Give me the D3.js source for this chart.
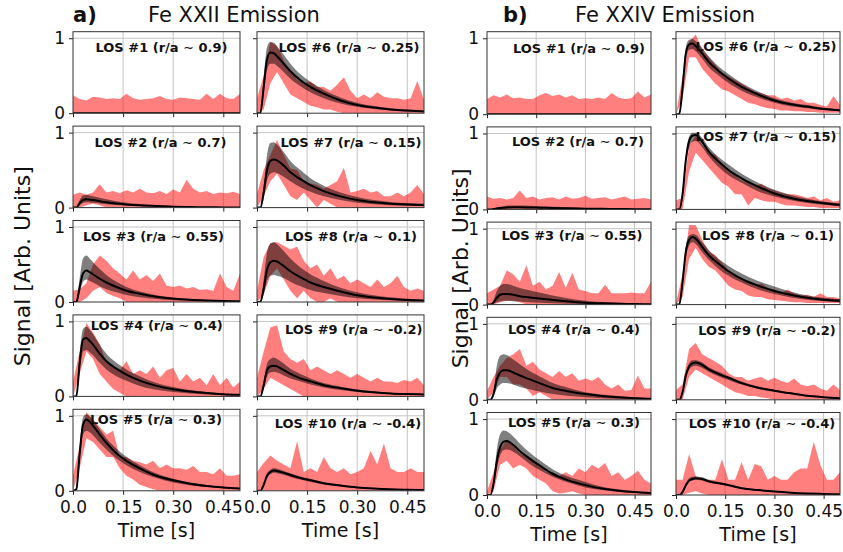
<!DOCTYPE html>
<html>
<head>
<meta charset="utf-8">
<script src="https://cdn.jsdelivr.net/npm/d3@7/dist/d3.min.js"></script>
<style>
body { margin: 0; background: #fff; }
svg text { font-family: "DejaVu Sans", sans-serif; fill: #111; }
</style>
</head>
<body>
<svg id="chart" width="843" height="552"></svg>
<script>

// ---- data ----

var tRed = [0, 0.02, 0.04, 0.06, 0.08, 0.10, 0.12, 0.14, 0.16, 0.18, 0.20, 0.22, 0.24,
	0.26, 0.28, 0.30, 0.32, 0.34, 0.36, 0.38, 0.40, 0.42, 0.44, 0.46, 0.48, 0.50];
var tModel = [0, 0.01, 0.02, 0.03, 0.04, 0.05, 0.06, 0.08, 0.10, 0.13, 0.16, 0.20, 0.25, 0.30, 0.35, 0.40, 0.45, 0.50];

var losRadius = ['0.9', '0.7', '0.55', '0.4', '0.3', '0.25', '0.15', '0.1', '-0.2', '-0.4'];
var timeTicks = [0, 0.15, 0.30, 0.45];
var timeTickLabels = ['0.0', '0.15', '0.30', '0.45'];
var signalTicks = [0, 1];

// Fe XXII : model line, model band, measured band
var fe22Model = [
	[0, 0, 0, 0, 0, 0, 0, 0, 0, 0, 0, 0, 0, 0, 0, 0, 0, 0],
	[0, 0, 0.06, 0.1, 0.11, 0.105, 0.1, 0.085, 0.07, 0.055, 0.042, 0.03, 0.02, 0.013, 0.008, 0.005, 0.003, 0.002],
	[0, 0, 0.2, 0.38, 0.42, 0.4, 0.37, 0.31, 0.26, 0.2, 0.15, 0.11, 0.07, 0.045, 0.03, 0.02, 0.013, 0.009],
	[0, 0, 0.45, 0.76, 0.78, 0.74, 0.69, 0.57, 0.47, 0.37, 0.29, 0.21, 0.14, 0.095, 0.065, 0.045, 0.03, 0.021],
	[0, 0.02, 0.5, 0.88, 0.95, 0.92, 0.87, 0.75, 0.64, 0.5, 0.4, 0.3, 0.2, 0.14, 0.095, 0.065, 0.045, 0.03],
	[0, 0, 0.35, 0.72, 0.81, 0.8, 0.76, 0.66, 0.56, 0.44, 0.35, 0.26, 0.17, 0.11, 0.075, 0.05, 0.035, 0.024],
	[0, 0, 0.2, 0.5, 0.62, 0.64, 0.63, 0.56, 0.47, 0.38, 0.3, 0.22, 0.15, 0.1, 0.07, 0.05, 0.04, 0.035],
	[0, 0, 0.18, 0.43, 0.53, 0.55, 0.54, 0.48, 0.41, 0.33, 0.26, 0.2, 0.14, 0.09, 0.06, 0.04, 0.028, 0.02],
	[0, 0, 0.15, 0.35, 0.4, 0.41, 0.4, 0.35, 0.3, 0.24, 0.2, 0.15, 0.11, 0.076, 0.055, 0.04, 0.032, 0.027],
	[0, 0, 0.08, 0.2, 0.25, 0.27, 0.265, 0.24, 0.21, 0.17, 0.14, 0.1, 0.07, 0.045, 0.03, 0.02, 0.014, 0.01]
];
var fe22GreyLo = [
	[0, 0, 0, 0, 0, 0, 0, 0, 0, 0, 0, 0, 0, 0, 0, 0, 0, 0],
	[0, 0, 0.03, 0.06, 0.07, 0.068, 0.064, 0.055, 0.045, 0.035, 0.026, 0.018, 0.011, 0.007, 0.004, 0.002, 0.001, 0.001],
	[0, 0, 0.12, 0.27, 0.3, 0.28, 0.26, 0.21, 0.17, 0.13, 0.095, 0.065, 0.04, 0.025, 0.015, 0.01, 0.006, 0.004],
	[0, 0, 0.33, 0.6, 0.62, 0.59, 0.55, 0.45, 0.36, 0.27, 0.21, 0.14, 0.09, 0.06, 0.04, 0.025, 0.017, 0.011],
	[0, 0.01, 0.4, 0.75, 0.8, 0.78, 0.74, 0.64, 0.55, 0.43, 0.34, 0.25, 0.17, 0.11, 0.075, 0.05, 0.035, 0.022],
	[0, 0, 0.25, 0.58, 0.66, 0.66, 0.63, 0.55, 0.46, 0.36, 0.28, 0.2, 0.13, 0.085, 0.055, 0.036, 0.024, 0.016],
	[0, 0, 0.12, 0.36, 0.45, 0.47, 0.46, 0.41, 0.35, 0.27, 0.21, 0.15, 0.1, 0.065, 0.045, 0.032, 0.025, 0.02],
	[0, 0, 0.1, 0.28, 0.35, 0.36, 0.35, 0.32, 0.27, 0.21, 0.16, 0.12, 0.08, 0.05, 0.033, 0.022, 0.015, 0.01],
	[0, 0, 0.1, 0.27, 0.32, 0.33, 0.32, 0.28, 0.24, 0.2, 0.16, 0.12, 0.085, 0.06, 0.043, 0.032, 0.025, 0.02],
	[0, 0, 0.06, 0.17, 0.22, 0.24, 0.235, 0.215, 0.185, 0.15, 0.12, 0.085, 0.058, 0.037, 0.024, 0.015, 0.01, 0.007]
];
var fe22GreyHi = [
	[0, 0, 0, 0, 0, 0, 0, 0, 0, 0, 0, 0, 0, 0, 0, 0, 0, 0],
	[0, 0, 0.1, 0.16, 0.17, 0.16, 0.15, 0.13, 0.11, 0.085, 0.065, 0.047, 0.031, 0.02, 0.013, 0.008, 0.005, 0.003],
	[0, 0, 0.32, 0.58, 0.62, 0.58, 0.53, 0.44, 0.36, 0.27, 0.2, 0.14, 0.09, 0.06, 0.04, 0.027, 0.018, 0.012],
	[0, 0, 0.58, 0.9, 0.93, 0.89, 0.83, 0.69, 0.57, 0.45, 0.36, 0.27, 0.18, 0.125, 0.085, 0.06, 0.04, 0.028],
	[0, 0.03, 0.6, 0.98, 1.02, 0.99, 0.94, 0.82, 0.7, 0.56, 0.45, 0.34, 0.23, 0.16, 0.11, 0.078, 0.055, 0.038],
	[0, 0, 0.48, 0.88, 0.95, 0.94, 0.89, 0.78, 0.66, 0.52, 0.42, 0.31, 0.21, 0.14, 0.095, 0.065, 0.045, 0.032],
	[0, 0, 0.3, 0.7, 0.86, 0.87, 0.84, 0.74, 0.62, 0.5, 0.39, 0.29, 0.2, 0.14, 0.1, 0.075, 0.06, 0.05],
	[0, 0, 0.3, 0.66, 0.78, 0.8, 0.77, 0.68, 0.58, 0.46, 0.37, 0.28, 0.19, 0.13, 0.09, 0.062, 0.043, 0.03],
	[0, 0, 0.2, 0.44, 0.5, 0.52, 0.5, 0.44, 0.37, 0.3, 0.24, 0.18, 0.13, 0.092, 0.066, 0.05, 0.04, 0.034],
	[0, 0, 0.1, 0.23, 0.28, 0.3, 0.295, 0.265, 0.235, 0.19, 0.16, 0.115, 0.082, 0.053, 0.036, 0.025, 0.018, 0.013]
];
var fe22RedLo = [
	[0, 0, 0, 0, 0, 0, 0, 0, 0, 0, 0, 0, 0, 0, 0, 0, 0, 0, 0, 0, 0, 0, 0, 0, 0, 0],
	[0, 0, 0.03, 0.05, 0.03, 0, 0, 0, 0, 0, 0, 0, 0, 0, 0, 0, 0, 0, 0, 0, 0, 0, 0, 0, 0, 0],
	[0, 0, 0.05, 0.15, 0.2, 0.12, 0.08, 0.05, 0, 0, 0, 0, 0, 0, 0, 0, 0, 0, 0, 0, 0, 0, 0, 0, 0, 0],
	[0, 0.3, 0.6, 0.5, 0.3, 0.2, 0.1, 0.05, 0, 0, 0, 0, 0, 0, 0, 0, 0, 0, 0, 0, 0, 0, 0, 0, 0, 0],
	[0, 0.3, 0.7, 0.65, 0.55, 0.45, 0.45, 0.3, 0.2, 0.15, 0.08, 0.05, 0.02, 0, 0, 0, 0, 0, 0, 0, 0, 0, 0, 0, 0, 0],
	[0, 0.05, 0.4, 0.55, 0.4, 0.25, 0.2, 0.15, 0.1, 0.08, 0.05, 0.05, 0.02, 0, 0, 0, 0, 0, 0, 0, 0, 0, 0, 0, 0, 0],
	[0, 0.15, 0.35, 0.45, 0.3, 0.15, 0.1, 0.2, 0.1, 0, 0.1, 0.05, 0, 0, 0, 0, 0, 0, 0, 0, 0, 0, 0, 0, 0, 0],
	[0, 0.1, 0.35, 0.45, 0.3, 0.15, 0.05, 0.15, 0.05, 0, 0, 0.05, 0, 0, 0, 0, 0, 0, 0, 0, 0, 0, 0, 0, 0, 0],
	[0, 0.1, 0.25, 0.2, 0.15, 0.1, 0.05, 0, 0, 0, 0, 0, 0, 0, 0, 0, 0, 0, 0, 0, 0, 0, 0, 0, 0, 0],
	[0, 0, 0, 0, 0, 0, 0, 0, 0, 0, 0, 0, 0, 0, 0, 0, 0, 0, 0, 0, 0, 0, 0, 0, 0, 0]
];
var fe22RedHi = [
	[0.24, 0.19, 0.17, 0.22, 0.21, 0.19, 0.2, 0.19, 0.26, 0.2, 0.18, 0.19, 0.2, 0.23, 0.19, 0.18, 0.21, 0.2, 0.19, 0.18, 0.26, 0.19, 0.26, 0.2, 0.19, 0.26],
	[0.17, 0.2, 0.17, 0.2, 0.31, 0.2, 0.22, 0.19, 0.23, 0.2, 0.25, 0.2, 0.19, 0.22, 0.18, 0.24, 0.2, 0.37, 0.25, 0.2, 0.22, 0.18, 0.2, 0.19, 0.21, 0.18],
	[0.15, 0.17, 0.25, 0.5, 0.62, 0.55, 0.45, 0.38, 0.3, 0.42, 0.3, 0.36, 0.28, 0.38, 0.22, 0.2, 0.22, 0.18, 0.2, 0.16, 0.17, 0.15, 0.38, 0.2, 0.15, 0.38],
	[0.2, 0.6, 0.98, 0.85, 0.7, 0.45, 0.4, 0.35, 0.47, 0.3, 0.35, 0.3, 0.4, 0.25, 0.35, 0.38, 0.2, 0.3, 0.2, 0.25, 0.15, 0.3, 0.15, 0.25, 0.12, 0.2],
	[0.2, 0.6, 1.05, 0.95, 0.85, 0.75, 0.8, 0.45, 0.45, 0.4, 0.38, 0.35, 0.4, 0.3, 0.35, 0.3, 0.3, 0.28, 0.33, 0.25, 0.25, 0.22, 0.3, 0.2, 0.2, 0.22],
	[0.2, 0.5, 0.95, 0.9, 0.7, 0.55, 0.45, 0.4, 0.42, 0.35, 0.35, 0.3, 0.38, 0.48, 0.3, 0.2, 0.25, 0.2, 0.28, 0.22, 0.2, 0.2, 0.18, 0.2, 0.43, 0.18],
	[0.18, 0.5, 0.7, 0.9, 0.7, 0.52, 0.5, 0.35, 0.32, 0.3, 0.25, 0.3, 0.35, 0.53, 0.2, 0.22, 0.25, 0.2, 0.22, 0.15, 0.15, 0.2, 0.15, 0.2, 0.3, 0.18],
	[0.15, 0.6, 0.78, 0.8, 0.75, 0.7, 0.74, 0.55, 0.45, 0.5, 0.35, 0.45, 0.3, 0.35, 0.25, 0.3, 0.25, 0.2, 0.3, 0.2, 0.25, 0.35, 0.2, 0.15, 0.18, 0.15],
	[0.25, 0.6, 0.92, 0.95, 0.6, 0.5, 0.45, 0.5, 0.35, 0.4, 0.35, 0.3, 0.35, 0.3, 0.25, 0.3, 0.25, 0.2, 0.25, 0.2, 0.2, 0.18, 0.22, 0.2, 0.25, 0.15],
	[0.25, 0.37, 0.47, 0.4, 0.35, 0.3, 0.66, 0.25, 0.3, 0.25, 0.45, 0.3, 0.25, 0.3, 0.22, 0.25, 0.3, 0.53, 0.35, 0.63, 0.3, 0.25, 0.25, 0.3, 0.25, 0.25]
];

// Fe XXIV : model line, model band, measured band
var fe24Model = [
	[0, 0, 0, 0, 0, 0, 0, 0, 0, 0, 0, 0, 0, 0, 0, 0, 0, 0],
	[0, 0, 0.005, 0.012, 0.018, 0.022, 0.025, 0.028, 0.028, 0.026, 0.023, 0.019, 0.014, 0.01, 0.007, 0.005, 0.003, 0.002],
	[0, 0, 0.03, 0.09, 0.13, 0.14, 0.14, 0.13, 0.11, 0.095, 0.08, 0.06, 0.04, 0.025, 0.017, 0.012, 0.008, 0.005],
	[0, 0, 0.08, 0.27, 0.36, 0.39, 0.39, 0.36, 0.32, 0.27, 0.22, 0.155, 0.11, 0.075, 0.05, 0.035, 0.022, 0.013],
	[0, 0, 0.15, 0.45, 0.63, 0.7, 0.71, 0.66, 0.58, 0.48, 0.39, 0.28, 0.19, 0.13, 0.085, 0.057, 0.038, 0.026],
	[0, 0, 0.35, 0.8, 0.92, 0.93, 0.9, 0.8, 0.69, 0.57, 0.47, 0.36, 0.26, 0.18, 0.13, 0.1, 0.07, 0.053],
	[0, 0, 0.2, 0.65, 0.9, 0.97, 0.98, 0.89, 0.76, 0.63, 0.52, 0.41, 0.3, 0.21, 0.15, 0.11, 0.08, 0.057],
	[0, 0, 0.3, 0.7, 0.85, 0.89, 0.87, 0.76, 0.65, 0.54, 0.44, 0.34, 0.25, 0.18, 0.13, 0.09, 0.065, 0.05],
	[0, 0, 0.1, 0.32, 0.44, 0.48, 0.49, 0.46, 0.4, 0.34, 0.29, 0.22, 0.16, 0.12, 0.085, 0.053, 0.035, 0.022],
	[0, 0, 0.04, 0.13, 0.19, 0.21, 0.22, 0.21, 0.18, 0.155, 0.13, 0.09, 0.065, 0.045, 0.03, 0.02, 0.014, 0.01]
];
var fe24GreyLo = [
	[0, 0, 0, 0, 0, 0, 0, 0, 0, 0, 0, 0, 0, 0, 0, 0, 0, 0],
	[0, 0, 0, 0.003, 0.006, 0.008, 0.01, 0.012, 0.012, 0.011, 0.01, 0.008, 0.006, 0.004, 0.003, 0.002, 0.001, 0.001],
	[0, 0, 0.01, 0.03, 0.04, 0.05, 0.05, 0.045, 0.04, 0.03, 0.025, 0.018, 0.012, 0.008, 0.005, 0.003, 0.002, 0.001],
	[0, 0, 0.04, 0.15, 0.2, 0.22, 0.22, 0.2, 0.17, 0.14, 0.11, 0.075, 0.05, 0.035, 0.022, 0.014, 0.008, 0.005],
	[0, 0, 0.1, 0.35, 0.52, 0.59, 0.6, 0.57, 0.51, 0.41, 0.33, 0.24, 0.16, 0.1, 0.065, 0.042, 0.027, 0.018],
	[0, 0, 0.3, 0.72, 0.85, 0.86, 0.83, 0.73, 0.62, 0.51, 0.41, 0.31, 0.22, 0.15, 0.105, 0.08, 0.055, 0.04],
	[0, 0, 0.15, 0.57, 0.82, 0.89, 0.9, 0.82, 0.7, 0.56, 0.45, 0.35, 0.24, 0.17, 0.12, 0.085, 0.06, 0.04],
	[0, 0, 0.25, 0.62, 0.78, 0.82, 0.8, 0.69, 0.59, 0.47, 0.38, 0.29, 0.2, 0.14, 0.095, 0.065, 0.045, 0.03],
	[0, 0, 0.08, 0.28, 0.4, 0.44, 0.45, 0.42, 0.37, 0.31, 0.26, 0.2, 0.145, 0.105, 0.075, 0.045, 0.03, 0.018],
	[0, 0, 0.03, 0.11, 0.17, 0.19, 0.2, 0.19, 0.165, 0.14, 0.115, 0.08, 0.057, 0.038, 0.025, 0.016, 0.011, 0.008]
];
var fe24GreyHi = [
	[0, 0, 0, 0, 0, 0, 0, 0, 0, 0, 0, 0, 0, 0, 0, 0, 0, 0],
	[0, 0, 0.01, 0.025, 0.035, 0.042, 0.047, 0.052, 0.052, 0.048, 0.042, 0.034, 0.025, 0.018, 0.012, 0.008, 0.005, 0.003],
	[0, 0, 0.06, 0.18, 0.25, 0.27, 0.27, 0.25, 0.22, 0.19, 0.16, 0.12, 0.08, 0.05, 0.035, 0.024, 0.016, 0.01],
	[0, 0, 0.12, 0.45, 0.58, 0.6, 0.59, 0.53, 0.47, 0.38, 0.31, 0.22, 0.155, 0.1, 0.07, 0.05, 0.032, 0.02],
	[0, 0, 0.2, 0.6, 0.8, 0.85, 0.84, 0.77, 0.68, 0.56, 0.46, 0.34, 0.24, 0.17, 0.11, 0.075, 0.05, 0.035],
	[0, 0, 0.4, 0.88, 0.98, 0.99, 0.96, 0.87, 0.76, 0.63, 0.53, 0.41, 0.3, 0.21, 0.155, 0.12, 0.085, 0.065],
	[0, 0, 0.25, 0.72, 0.96, 1.01, 1.01, 0.94, 0.82, 0.69, 0.59, 0.47, 0.35, 0.26, 0.19, 0.14, 0.105, 0.08],
	[0, 0, 0.35, 0.77, 0.91, 0.93, 0.92, 0.82, 0.72, 0.6, 0.51, 0.41, 0.31, 0.24, 0.17, 0.12, 0.09, 0.07],
	[0, 0, 0.12, 0.36, 0.48, 0.52, 0.52, 0.49, 0.43, 0.37, 0.31, 0.24, 0.175, 0.13, 0.095, 0.06, 0.04, 0.026],
	[0, 0, 0.05, 0.15, 0.22, 0.24, 0.245, 0.235, 0.2, 0.17, 0.145, 0.1, 0.073, 0.052, 0.035, 0.024, 0.017, 0.012]
];
var fe24RedLo = [
	[0, 0, 0, 0, 0, 0, 0, 0, 0, 0, 0, 0, 0, 0, 0, 0, 0, 0, 0, 0, 0, 0, 0, 0, 0, 0],
	[0, 0, 0, 0, 0, 0, 0, 0, 0, 0, 0, 0, 0, 0, 0, 0, 0, 0, 0, 0, 0, 0, 0, 0, 0, 0],
	[0, 0, 0.03, 0.05, 0.05, 0.03, 0, 0, 0, 0, 0, 0, 0, 0, 0, 0, 0, 0, 0, 0, 0, 0, 0, 0, 0, 0],
	[0, 0.1, 0.3, 0.3, 0.2, 0.2, 0.15, 0.05, 0.1, 0.05, 0, 0, 0, 0, 0, 0, 0, 0, 0, 0, 0, 0, 0, 0, 0, 0],
	[0, 0.05, 0.4, 0.45, 0.35, 0.4, 0.35, 0.25, 0.2, 0.15, 0.05, 0.02, 0.03, 0.05, 0.02, 0, 0, 0, 0, 0, 0, 0, 0, 0, 0, 0],
	[0, 0.2, 0.75, 0.75, 0.6, 0.5, 0.4, 0.33, 0.3, 0.25, 0.2, 0.15, 0.13, 0.1, 0.08, 0.07, 0.05, 0.05, 0.04, 0.04, 0.03, 0.03, 0.02, 0.02, 0.02, 0.02],
	[0, 0, 0.5, 0.75, 0.65, 0.55, 0.45, 0.35, 0.3, 0.2, 0.2, 0.05, 0.15, 0.12, 0.1, 0.1, 0.07, 0.05, 0.05, 0.04, 0.03, 0.03, 0.02, 0.02, 0.02, 0.02],
	[0, 0.1, 0.6, 0.75, 0.6, 0.5, 0.45, 0.35, 0.25, 0.2, 0.18, 0.12, 0.1, 0.1, 0.07, 0.06, 0.05, 0.04, 0.03, 0.03, 0.02, 0.02, 0.02, 0.02, 0.02, 0.02],
	[0, 0, 0.3, 0.4, 0.35, 0.3, 0.25, 0.2, 0.15, 0.1, 0.08, 0.05, 0.05, 0.03, 0.02, 0, 0, 0, 0, 0, 0, 0, 0, 0, 0, 0],
	[0, 0, 0.03, 0.05, 0.02, 0, 0, 0, 0, 0, 0, 0, 0, 0, 0, 0, 0, 0, 0, 0, 0, 0, 0, 0, 0, 0]
];
var fe24RedHi = [
	[0.2, 0.25, 0.22, 0.26, 0.21, 0.22, 0.2, 0.2, 0.25, 0.28, 0.24, 0.26, 0.22, 0.25, 0.2, 0.21, 0.2, 0.22, 0.2, 0.28, 0.22, 0.2, 0.21, 0.3, 0.22, 0.26],
	[0.17, 0.14, 0.15, 0.13, 0.15, 0.25, 0.15, 0.17, 0.13, 0.15, 0.16, 0.13, 0.17, 0.14, 0.15, 0.18, 0.14, 0.15, 0.16, 0.13, 0.15, 0.17, 0.13, 0.14, 0.15, 0.13],
	[0.15, 0.2, 0.25, 0.45, 0.4, 0.3, 0.52, 0.25, 0.3, 0.2, 0.25, 0.43, 0.22, 0.42, 0.2, 0.18, 0.15, 0.15, 0.26, 0.15, 0.15, 0.15, 0.16, 0.15, 0.15, 0.3],
	[0.12, 0.3, 0.45, 0.55, 0.6, 0.67, 0.45, 0.5, 0.4, 0.35, 0.3, 0.38, 0.3, 0.35, 0.25, 0.28, 0.25, 0.3, 0.2, 0.15, 0.2, 0.12, 0.13, 0.32, 0.15, 0.15],
	[0.05, 0.3, 0.6, 0.72, 0.65, 0.55, 0.5, 0.45, 0.4, 0.3, 0.3, 0.25, 0.3, 0.25, 0.35, 0.3, 0.4, 0.35, 0.42, 0.25, 0.3, 0.2, 0.25, 0.32, 0.2, 0.15],
	[0, 0.5, 0.95, 1.05, 0.85, 0.75, 0.65, 0.55, 0.5, 0.45, 0.4, 0.35, 0.3, 0.28, 0.25, 0.25, 0.2, 0.22, 0.18, 0.2, 0.15, 0.15, 0.12, 0.1, 0.24, 0.12],
	[0.12, 0.15, 0.85, 0.97, 0.85, 0.75, 0.72, 0.6, 0.5, 0.45, 0.38, 0.35, 0.3, 0.34, 0.28, 0.25, 0.22, 0.2, 0.2, 0.18, 0.15, 0.17, 0.12, 0.15, 0.1, 0.12],
	[0.02, 0.4, 1.05, 1.05, 0.85, 0.7, 0.65, 0.55, 0.45, 0.4, 0.32, 0.3, 0.25, 0.28, 0.22, 0.2, 0.15, 0.2, 0.15, 0.12, 0.13, 0.1, 0.15, 0.1, 0.1, 0.08],
	[0.13, 0.2, 0.67, 0.75, 0.6, 0.55, 0.5, 0.45, 0.35, 0.3, 0.3, 0.25, 0.28, 0.3, 0.25, 0.29, 0.25, 0.22, 0.28, 0.2, 0.18, 0.2, 0.15, 0.12, 0.2, 0.13],
	[0.2, 0.2, 0.54, 0.25, 0.2, 0.2, 0.2, 0.47, 0.2, 0.2, 0.43, 0.2, 0.41, 0.38, 0.2, 0.25, 0.2, 0.2, 0.3, 0.35, 0.35, 0.7, 0.4, 0.2, 0.2, 0.3]
];


// ---- layout ----

var svg = d3.select('#chart');

var groups = [
	{
		tag : 'a)', title : 'Fe XXII Emission',
		tagX : 73, titleX : 148, ylabelX : 22,
		colX : [73, 257], width : 167,
		top : 31.7, pitch : 94.4, height : 81.5,
		model : fe22Model, greyLo : fe22GreyLo, greyHi : fe22GreyHi, redLo : fe22RedLo, redHi : fe22RedHi,
		// label centre (from panel left) and baseline (from panel top)
		labelPos : [[88.5, 20], [87.5, 21], [80.5, 20], [83.7, 15], [83, 15], [92, 20], [94, 21], [94, 20], [96.7, 19], [91, 19]]
	},
	{
		tag : 'b)', title : 'Fe XXIV Emission',
		tagX : 503, titleX : 575, ylabelX : 460,
		colX : [487, 676], width : 164,
		top : 31.7, pitch : 95.2, height : 82.5,
		model : fe24Model, greyLo : fe24GreyLo, greyHi : fe24GreyHi, redLo : fe24RedLo, redHi : fe24RedHi,
		labelPos : [[92, 21], [91, 19], [85, 18], [87, 17], [87, 14], [90, 19], [90, 14], [92, 18], [91, 18], [86, 15]]
	}
];

var clipId = 0;

groups.forEach(function (grp) {

	// Title
	svg.append('text')
		.attr('x', grp.tagX)
		.attr('y', 22)
		.attr('font-size', '21px')
		.attr('font-weight', 'bold')
		.text(grp.tag);

	svg.append('text')
		.attr('x', grp.titleX)
		.attr('y', 22)
		.attr('font-size', '21px')
		.text(grp.title);

	// Y label
	var midY = grp.top + (4 * grp.pitch + grp.height) / 2 + 5;
	svg.append('text')
		.attr('transform', 'translate(' + grp.ylabelX + ',' + midY + ') rotate(-90)')
		.attr('text-anchor', 'middle')
		.attr('dy', '0.35em')
		.attr('font-size', '22px')
		.text('Signal [Arb. Units]');

	var x = d3.scaleLinear().domain([0, 0.5]).range([0, grp.width]);
	var y = d3.scaleLinear().domain([0, 1.087]).range([grp.height, 0]);

	d3.range(10).forEach(function (k) {

		var col = Math.floor(k / 5);
		var row = k % 5;
		var px = grp.colX[col];
		var py = grp.top + row * grp.pitch;

		var g = svg.append('g').attr('transform', 'translate(' + px + ',' + py + ')');

		clipId++;
		g.append('clipPath').attr('id', 'clip' + clipId)
			.append('rect').attr('width', grp.width).attr('height', grp.height);

		// grid
		g.selectAll('.vgrid').data(timeTicks.slice(1)).enter()
			.append('line')
			.attr('x1', function (d) { return x(d); })
			.attr('x2', function (d) { return x(d); })
			.attr('y1', 0).attr('y2', grp.height)
			.attr('stroke', '#c4c4c4').attr('stroke-width', 1);

		g.append('line')
			.attr('x1', 0).attr('x2', grp.width)
			.attr('y1', y(1)).attr('y2', y(1))
			.attr('stroke', '#c4c4c4').attr('stroke-width', 1);

		var plot = g.append('g').attr('clip-path', 'url(#clip' + clipId + ')');

		// measured band
		var lo = grp.redLo[k], hi = grp.redHi[k];
		var redArea = d3.area()
			.x(function (d) { return x(d); })
			.y0(function (d, i) { return y(lo[i]); })
			.y1(function (d, i) { return y(hi[i]); });

		plot.append('path')
			.attr('d', redArea(tRed))
			.attr('fill', '#ff0000')
			.attr('fill-opacity', 0.5);

		// model band
		var glo = grp.greyLo[k], ghi = grp.greyHi[k], m = grp.model[k];
		var greyArea = d3.area()
			.curve(d3.curveMonotoneX)
			.x(function (d) { return x(d); })
			.y0(function (d, i) { return y(glo[i]); })
			.y1(function (d, i) { return y(ghi[i]); });

		plot.append('path')
			.attr('d', greyArea(tModel))
			.attr('fill', '#000')
			.attr('fill-opacity', 0.5);

		// model line
		var line = d3.line()
			.curve(d3.curveMonotoneX)
			.x(function (d) { return x(d); })
			.y(function (d, i) { return y(m[i]); });

		plot.append('path')
			.attr('d', line(tModel))
			.attr('fill', 'none')
			.attr('stroke', '#000')
			.attr('stroke-width', 2);

		// axes
		var xAxis = d3.axisBottom(x)
			.tickValues(timeTicks)
			.tickSize(4)
			.tickPadding(6)
			.tickFormat(function (d, i) { return row === 4 ? timeTickLabels[i] : ''; });

		var gx = g.append('g')
			.attr('transform', 'translate(0,' + grp.height + ')')
			.call(xAxis);

		var yAxis = d3.axisLeft(y)
			.tickValues(signalTicks)
			.tickSize(4)
			.tickPadding(4)
			.tickFormat(function (d) { return col === 0 ? d : ''; });

		var gy = g.append('g').call(yAxis);

		[gx, gy].forEach(function (a) {
			a.select('.domain').remove();
			a.selectAll('line').attr('stroke', '#222');
			a.selectAll('text')
				.attr('font-family', '"DejaVu Sans", sans-serif')
				.attr('font-size', '17px')
				.attr('fill', '#111');
		});

		// frame
		g.append('rect')
			.attr('width', grp.width)
			.attr('height', grp.height)
			.attr('fill', 'none')
			.attr('stroke', '#333')
			.attr('stroke-width', 1);

		// LOS label
		var lbl = g.append('text')
			.attr('x', grp.labelPos[k][0])
			.attr('y', grp.labelPos[k][1])
			.attr('text-anchor', 'middle')
			.attr('font-size', '13px')
			.attr('font-weight', 'bold');

		lbl.append('tspan').text('LOS #' + (k + 1) + ' (r/a ');
		lbl.append('tspan').attr('font-weight', 'normal').text('\u223C');
		lbl.append('tspan').text(' ' + losRadius[k] + ')');

		// Time label
		if (row === 4) {
			g.append('text')
				.attr('x', grp.width / 2)
				.attr('y', grp.height + 46)
				.attr('text-anchor', 'middle')
				.attr('font-size', '19px')
				.text('Time [s]');
		}
	});
});

</script>
</body>
</html>
